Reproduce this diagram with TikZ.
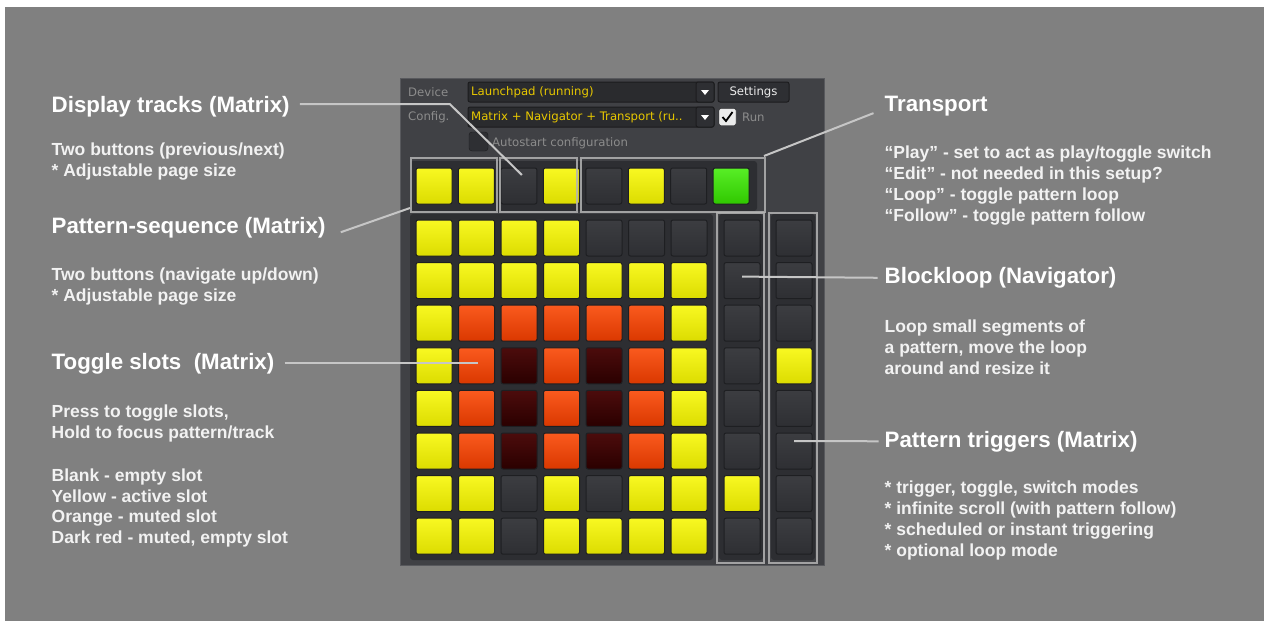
\documentclass[tikz,border=0pt]{standalone}
\usepackage{fontspec}
\setmainfont{Liberation Sans}
\newfontfamily\uifont{DejaVu Sans}
\definecolor{bgc}{HTML}{808080}
\definecolor{panelc}{HTML}{404145}
\definecolor{paneledge}{HTML}{58595D}
\definecolor{gridc}{HTML}{2D2E32}
\definecolor{yelT}{HTML}{F8F822}
\definecolor{yelB}{HTML}{DCDC00}
\definecolor{oraT}{HTML}{FA5A1E}
\definecolor{oraB}{HTML}{DA3800}
\definecolor{redT}{HTML}{4C0C0C}
\definecolor{redB}{HTML}{2A0000}
\definecolor{blkT}{HTML}{3C3D41}
\definecolor{blkB}{HTML}{2E2F33}
\definecolor{grnT}{HTML}{58EE26}
\definecolor{grnB}{HTML}{30C800}
\definecolor{btnedge}{HTML}{1E1F22}
\definecolor{linec}{HTML}{C6C6C6}
\definecolor{outc}{HTML}{B4B4B4}
\definecolor{textc}{HTML}{F2F2F2}
\definecolor{uigray}{HTML}{8C8C8C}
\definecolor{uiyel}{HTML}{E8C800}
\definecolor{combo}{HTML}{2A2B2E}
\definecolor{comboedge}{HTML}{1C1C1E}
\begin{document}
\begin{tikzpicture}[x=1pt,y=-1pt,
  btn/.style={minimum size=36pt, inner sep=0pt, rounded corners=2pt, draw=btnedge, line width=1pt},
  btnY/.style={btn, top color=yelT, bottom color=yelB},
  btnO/.style={btn, top color=oraT, bottom color=oraB},
  btnR/.style={btn, top color=redT, bottom color=redB},
  btnB/.style={btn, top color=blkT, bottom color=blkB},
  btnG/.style={btn, top color=grnT, bottom color=grnB},
  title/.style={font=\fontsize{22.3}{26}\selectfont\bfseries, text=white, anchor=base west, inner sep=0pt},
  body/.style={font=\fontsize{17.5}{21}\selectfont\bfseries, text=textc, anchor=base west, inner sep=0pt},
  leader/.style={draw=linec, line width=2pt},
  outline/.style={draw=outc, line width=2pt, draw opacity=0.85, inner sep=0pt},
  ui/.style={font=\uifont\fontsize{11.7}{13}\selectfont, inner sep=0pt, anchor=west},
  combobox/.style={fill=combo, draw=comboedge, line width=1pt, rounded corners=2pt, inner sep=0pt},
]
\useasboundingbox (0,0) rectangle (1264,621);
\fill[white] (0,0) rectangle (1264,621);
\fill[bgc] (5,7) rectangle (1264,621);

% panel
\fill[panelc] (400,78) rectangle (825,566);
\draw[paneledge, line width=1pt] (400.5,78.5) rectangle (824.5,565.5);

% device row
\node[ui, text=uigray] (devlbl) at (408,92) {Device};
\node[ui, text=uigray] (cfglbl) at (408,117) {Config.};
\node[combobox, minimum width=246pt, minimum height=20pt] (devbox) at (591,92) {};
\node[combobox, minimum width=18pt, minimum height=20pt, fill=blkB] (devarr) at (705,92) {};
\fill[white] ([shift={(-4,-2)}]devarr.center) -- ([shift={(4,-2)}]devarr.center) -- ([shift={(0,3)}]devarr.center) -- cycle;
\node[ui, text=uiyel] (devtxt) at (471,92) {Launchpad (running)};
\node[combobox, minimum width=71pt, minimum height=20pt, fill=blkB, font=\uifont\fontsize{11.7}{13}\selectfont, text=white!92!black] (settings) at (753.5,92) {Settings};
\node[combobox, minimum width=246pt, minimum height=20pt] (cfgbox) at (591,117) {};
\node[combobox, minimum width=18pt, minimum height=20pt, fill=blkB] (cfgarr) at (705,117) {};
\fill[white] ([shift={(-4,-2)}]cfgarr.center) -- ([shift={(4,-2)}]cfgarr.center) -- ([shift={(0,3)}]cfgarr.center) -- cycle;
\node[ui, text=uiyel] (cfgtxt) at (471,117) {Matrix + Navigator + Transport (ru..};
\node[fill=white!92!black, draw=comboedge, rounded corners=2pt, minimum size=17pt, inner sep=0pt] (run) at (727.5,117) {};
\draw[black, line width=1.8pt] ([shift={(-5,0)}]run.center) -- ([shift={(-1.5,4)}]run.center) -- ([shift={(5,-5)}]run.center);
\node[ui, text=uigray] (runlbl) at (742,117) {Run};
\node[fill=blkB, draw=comboedge, rounded corners=3pt, minimum size=19pt, inner sep=0pt] (auto) at (478.5,141.5) {};
\node[ui, text=uigray] (autolbl) at (492,143) {Autostart configuration};

% grid backgrounds
\fill[gridc, rounded corners=3pt] (410,161) rectangle (757,211);
\fill[gridc, rounded corners=3pt] (410,214) rectangle (713,560);
\fill[gridc, rounded corners=3pt] (719,214) rectangle (763,560);
\fill[gridc, rounded corners=3pt] (771,214) rectangle (815,560);

% top row
\foreach \c [count=\cj from 0] in {Y,Y,B,Y,B,Y,B,G}
  \node[btn\c] (tb-\cj) at ({434+\cj*42.45},186) {};
% main grid
\foreach \rr [count=\ri from 0] in {{Y,Y,Y,Y,B,B,B},{Y,Y,Y,Y,Y,Y,Y},{Y,O,O,O,O,O,Y},{Y,O,R,O,R,O,Y},{Y,O,R,O,R,O,Y},{Y,O,R,O,R,O,Y},{Y,Y,B,Y,B,Y,Y},{Y,Y,B,Y,Y,Y,Y}}
  \foreach \c [count=\cj from 0] in \rr
    \node[btn\c] (m-\ri-\cj) at ({434+\cj*42.5},{238+\ri*42.6}) {};
\foreach \c [count=\ri from 0] in {B,B,B,B,B,B,Y,B}
  \node[btn\c] (nav-\ri) at (742,{238+\ri*42.6}) {};
\foreach \c [count=\ri from 0] in {B,B,B,Y,B,B,B,B}
  \node[btn\c] (trg-\ri) at (794,{238+\ri*42.6}) {};

% outline boxes
\node[outline, minimum width=86pt, minimum height=54pt] (box1) at (454,185) {};
\node[outline, minimum width=77pt, minimum height=54pt] (box2) at (538.5,185) {};
\node[outline, minimum width=184pt, minimum height=54pt] (box3) at (673,185) {};
\node[outline, minimum width=47pt, minimum height=350pt] (navbox) at (740.5,388) {};
\node[outline, minimum width=48pt, minimum height=350pt] (trgbox) at (793,388) {};

% left texts
\node[title] (dt) at (51.5,112) {Display tracks (Matrix)};
\node[body] (dtb1) at (51.5,155) {Two buttons (previous/next)};
\node[body] (dtb2) at (51.5,176) {* Adjustable page size};
\node[title] (ps) at (51.5,233) {Pattern-sequence (Matrix)};
\node[body] (psb1) at (51.5,280) {Two buttons (navigate up/down)};
\node[body] (psb2) at (51.5,301) {* Adjustable page size};
\node[title] (ts) at (51.5,369) {Toggle slots~ (Matrix)};
\node[body] (tsb1) at (51.5,417) {Press to toggle slots,};
\node[body] (tsb2) at (51.5,438) {Hold to focus pattern/track};
\node[body] (tsb3) at (51.5,481) {Blank - empty slot};
\node[body] (tsb4) at (51.5,502) {Yellow - active slot};
\node[body] (tsb5) at (51.5,522) {Orange - muted slot};
\node[body] (tsb6) at (51.5,543) {Dark red - muted, empty slot};

% right texts
\node[title] (tp) at (884.5,111.5) {Transport};
\node[body] (tpb1) at (884.5,158) {“Play” - set to act as play/toggle switch};
\node[body] (tpb2) at (884.5,179) {“Edit” - not needed in this setup?};
\node[body] (tpb3) at (884.5,200) {“Loop” - toggle pattern loop};
\node[body] (tpb4) at (884.5,221) {“Follow” - toggle pattern follow};
\node[title] (bl) at (884.5,283.5) {Blockloop (Navigator)};
\node[body] (blb1) at (884.5,332) {Loop small segments of};
\node[body] (blb2) at (884.5,353) {a pattern, move the loop};
\node[body] (blb3) at (884.5,374) {around and resize it};
\node[title] (pt) at (884.5,447) {Pattern triggers (Matrix)};
\node[body] (ptb1) at (884.5,493) {* trigger, toggle, switch modes};
\node[body] (ptb2) at (884.5,514) {* infinite scroll (with pattern follow)};
\node[body] (ptb3) at (884.5,535) {* scheduled or instant triggering};
\node[body] (ptb4) at (884.5,556) {* optional loop mode};

% leaders
\coordinate (dtB) at (450,104);
\coordinate (tsEnd) at (478,362);
\draw[leader] ([xshift=10pt,yshift=2pt]dt.east) -- ([yshift=2pt]dt.east -| dtB) -- ([shift={(3,-11)}]tb-2.center);
\draw[leader] ([xshift=15pt,yshift=-5pt]ps.east) -- ([yshift=5pt]box1.south west);
\draw[leader] ([xshift=10pt]ts.east) -- (ts.east -| tsEnd);
\draw[leader] ([xshift=-2pt,yshift=1pt]box3.north east) -- ([xshift=-11pt,yshift=-7pt]tp.west);
\draw[leader] ([yshift=4pt]nav-1.center) -- ([xshift=-7pt]bl.west);
\draw[leader] ([yshift=10pt]trg-5.center) -- ([xshift=-6pt]pt.west);
\end{tikzpicture}
\end{document}
